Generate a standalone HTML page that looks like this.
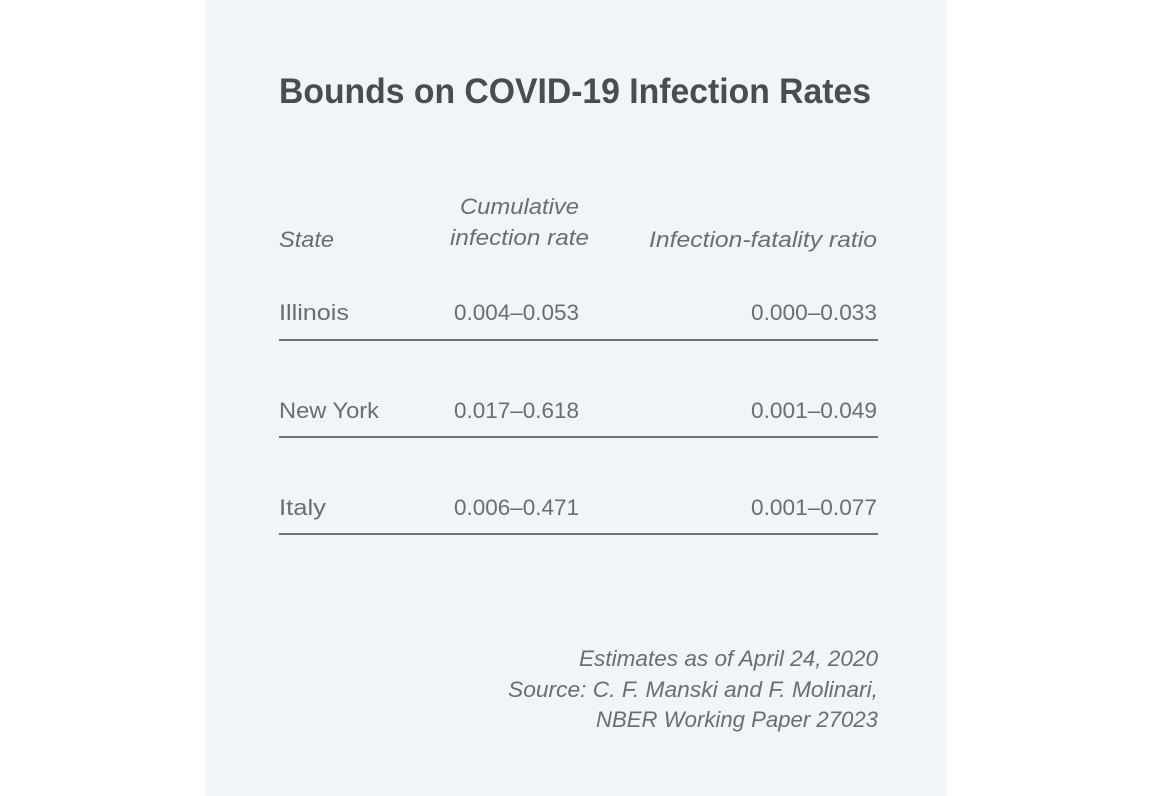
<!DOCTYPE html>
<html><head><style>
html,body{margin:0;padding:0;background:#fff;width:1152px;height:796px;overflow:hidden}
svg{display:block}
text{font-family:"Liberation Sans",sans-serif;fill:#6b6d71}
.i{font-style:italic}
</style></head><body>
<svg width="1152" height="796" xmlns="http://www.w3.org/2000/svg">
<rect x="206" y="0" width="740" height="796" fill="#f0f5fa"/>
<text x="279" y="103" font-size="35" font-weight="bold" style="fill:#4a4c51" textLength="592" lengthAdjust="spacingAndGlyphs">Bounds on COVID-19 Infection Rates</text>
<g font-size="22">
<text class="i" x="279" y="247" textLength="55" lengthAdjust="spacingAndGlyphs">State</text>
<text class="i" x="460" y="214" textLength="119" lengthAdjust="spacingAndGlyphs">Cumulative</text>
<text class="i" x="450" y="245" textLength="139" lengthAdjust="spacingAndGlyphs">infection rate</text>
<text class="i" x="649" y="247" textLength="228" lengthAdjust="spacingAndGlyphs">Infection-fatality ratio</text>
<text x="279" y="320" textLength="70" lengthAdjust="spacingAndGlyphs">Illinois</text>
<text x="454" y="320" textLength="125" lengthAdjust="spacingAndGlyphs">0.004–0.053</text>
<text x="751" y="320" textLength="126" lengthAdjust="spacingAndGlyphs">0.000–0.033</text>
<text x="279" y="418" textLength="100" lengthAdjust="spacingAndGlyphs">New York</text>
<text x="454" y="418" textLength="125" lengthAdjust="spacingAndGlyphs">0.017–0.618</text>
<text x="751" y="418" textLength="126" lengthAdjust="spacingAndGlyphs">0.001–0.049</text>
<text x="279" y="515" textLength="47" lengthAdjust="spacingAndGlyphs">Italy</text>
<text x="454" y="515" textLength="125" lengthAdjust="spacingAndGlyphs">0.006–0.471</text>
<text x="751" y="515" textLength="126" lengthAdjust="spacingAndGlyphs">0.001–0.077</text>
<text class="i" x="579" y="666" textLength="299" lengthAdjust="spacingAndGlyphs">Estimates as of April 24, 2020</text>
<text class="i" x="508" y="697" textLength="370" lengthAdjust="spacingAndGlyphs">Source: C. F. Manski and F. Molinari,</text>
<text class="i" x="596" y="727" textLength="282" lengthAdjust="spacingAndGlyphs">NBER Working Paper 27023</text>
</g>
<g stroke="#707277" stroke-width="2">
<line x1="279" y1="340" x2="878" y2="340"/>
<line x1="279" y1="437" x2="878" y2="437"/>
<line x1="279" y1="534" x2="878" y2="534"/>
</g>
</svg>
</body></html>
